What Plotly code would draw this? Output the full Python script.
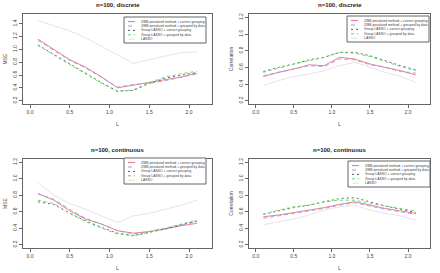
import plotly.graph_objects as go

L = [0.1, 0.3, 0.5, 0.7, 0.9, 1.1, 1.3, 1.5, 1.7, 1.9, 2.1]

series_names = [
    "ZIBB penalized method + correct grouping",
    "ZIBB penalized method + grouped by data",
    "Group LASSO + correct grouping",
    "Group LASSO + grouped by data",
    "LASSO",
]

# MSE, discrete
mse_disc_zibb_correct = [1.16, 1.00, 0.84, 0.72, 0.57, 0.40, 0.44, 0.48, 0.52, 0.57, 0.63]
mse_disc_zibb_data    = [1.14, 0.99, 0.83, 0.71, 0.56, 0.41, 0.45, 0.47, 0.51, 0.57, 0.62]
mse_disc_gl_correct   = [1.07, 0.92, 0.78, 0.63, 0.48, 0.35, 0.36, 0.47, 0.55, 0.60, 0.64]
mse_disc_gl_data      = [1.06, 0.91, 0.77, 0.62, 0.47, 0.34, 0.37, 0.48, 0.57, 0.62, 0.66]
mse_disc_lasso        = [1.45, 1.37, 1.29, 1.18, 1.05, 0.92, 0.78, 0.84, 0.90, 0.95, 0.96]

# Correlation, discrete
cor_disc_zibb_correct = [0.49, 0.54, 0.58, 0.63, 0.62, 0.72, 0.70, 0.64, 0.60, 0.56, 0.51]
cor_disc_zibb_data    = [0.50, 0.54, 0.58, 0.62, 0.61, 0.70, 0.69, 0.63, 0.60, 0.55, 0.53]
cor_disc_gl_correct   = [0.55, 0.60, 0.64, 0.69, 0.72, 0.78, 0.78, 0.74, 0.68, 0.62, 0.57]
cor_disc_gl_data      = [0.54, 0.59, 0.64, 0.68, 0.72, 0.78, 0.77, 0.73, 0.67, 0.61, 0.56]
cor_disc_lasso        = [0.38, 0.44, 0.49, 0.52, 0.56, 0.62, 0.66, 0.60, 0.54, 0.49, 0.42]

# MSE, continuous
mse_cont_zibb_correct = [0.82, 0.74, 0.61, 0.51, 0.45, 0.37, 0.34, 0.36, 0.39, 0.43, 0.46]
mse_cont_zibb_data    = [0.82, 0.75, 0.63, 0.52, 0.45, 0.37, 0.33, 0.36, 0.40, 0.44, 0.48]
mse_cont_gl_correct   = [0.72, 0.69, 0.58, 0.49, 0.41, 0.34, 0.31, 0.35, 0.39, 0.44, 0.49]
mse_cont_gl_data      = [0.74, 0.70, 0.58, 0.48, 0.40, 0.33, 0.31, 0.35, 0.40, 0.45, 0.50]
mse_cont_lasso        = [0.95, 0.80, 0.70, 0.63, 0.55, 0.47, 0.55, 0.58, 0.63, 0.68, 0.74]

# Correlation, continuous
cor_cont_zibb_correct = [0.54, 0.56, 0.59, 0.62, 0.65, 0.69, 0.72, 0.68, 0.64, 0.61, 0.58]
cor_cont_zibb_data    = [0.52, 0.55, 0.58, 0.61, 0.64, 0.68, 0.71, 0.67, 0.63, 0.60, 0.57]
cor_cont_gl_correct   = [0.57, 0.61, 0.65, 0.68, 0.72, 0.76, 0.77, 0.72, 0.67, 0.63, 0.59]
cor_cont_gl_data      = [0.57, 0.62, 0.66, 0.68, 0.72, 0.74, 0.74, 0.70, 0.67, 0.64, 0.61]
cor_cont_lasso        = [0.44, 0.48, 0.51, 0.56, 0.62, 0.66, 0.68, 0.62, 0.58, 0.55, 0.50]

x_ticks = [0.0, 0.5, 1.0, 1.5, 2.0]
y_ticks_mse_disc = [0.2, 0.4, 0.6, 0.8, 1.0, 1.2, 1.4]
y_ticks_std = [0.2, 0.4, 0.6, 0.8, 1.0, 1.2]

W, H = 440, 273

def px(x):
    return x / W

def py(y):
    return 1 - y / H

panels = [
    dict(title="n=100, discrete", ylab="MSE", ylim=[0.148, 1.552], yticks=y_ticks_mse_disc,
         data=[mse_disc_zibb_correct, mse_disc_zibb_data, mse_disc_gl_correct, mse_disc_gl_data, mse_disc_lasso],
         box=(23, 212, 14, 104), leg=(6, 3)),
    dict(title="n=100, discrete", ylab="Correlation", ylim=[0.16, 1.24], yticks=y_ticks_std,
         data=[cor_disc_zibb_correct, cor_disc_zibb_data, cor_disc_gl_correct, cor_disc_gl_data, cor_disc_lasso],
         box=(249, 430, 14, 104), leg=(1, 2)),
    dict(title="n=100, continuous", ylab="MSE", ylim=[0.16, 1.24], yticks=y_ticks_std,
         data=[mse_cont_zibb_correct, mse_cont_zibb_data, mse_cont_gl_correct, mse_cont_gl_data, mse_cont_lasso],
         box=(23, 212, 159, 248), leg=(6, -1)),
    dict(title="n=100, continuous", ylab="Correlation", ylim=[0.16, 1.24], yticks=y_ticks_std,
         data=[cor_cont_zibb_correct, cor_cont_zibb_data, cor_cont_gl_correct, cor_cont_gl_data, cor_cont_lasso],
         box=(249, 430, 159, 248), leg=(0, 2)),
]

colors = ["#ec7080", "#9a9aec", "#5a5a5a", "#52dc52", "#ebdde3"]
dashes = ["solid", "4px,3px", "2px,3px", "dot", "solid"]

fig = go.Figure()
FONT = "Liberation Sans, Arial, sans-serif"
annotations = []
shapes = []

LEG_W, LEG_H, ROW = 82, 26, 4.4

for i, p in enumerate(panels):
    k = "" if i == 0 else str(i + 1)
    x0, x1, y0, y1 = p["box"]
    for j, name in enumerate(series_names):
        fig.add_trace(go.Scatter(
            x=L, y=p["data"][j], mode="lines", name=name,
            line=dict(color=colors[j], width=0.9, dash=dashes[j]),
            xaxis="x" + k, yaxis="y" + k, showlegend=False,
        ))
    axis_common = dict(showline=True, mirror=True, linecolor="#666666", linewidth=1,
                       ticks="outside", ticklen=3, tickcolor="#666666", tickwidth=1,
                       showgrid=False, zeroline=False,
                       tickfont=dict(size=5, family=FONT, color="#444444"))
    fig.layout["xaxis" + k] = dict(domain=[px(x0), px(x1)], anchor="y" + k, range=[-0.088, 2.288],
                                   tickvals=x_ticks, ticktext=[f"{v:.1f}" for v in x_ticks],
                                   title=dict(text="L", font=dict(size=5, family=FONT, color="#444444"), standoff=8),
                                   **axis_common)
    fig.layout["yaxis" + k] = dict(domain=[py(y1), py(y0)], anchor="x" + k, range=p["ylim"],
                                   tickvals=p["yticks"], ticktext=[f"{v:.1f}" for v in p["yticks"]],
                                   tickangle=-90,
                                   title=dict(text=p["ylab"], font=dict(size=5, family=FONT, color="#444444"), standoff=4),
                                   **axis_common)
    annotations.append(dict(text="<b>" + p["title"] + "</b>", x=px((x0 + x1) / 2), y=py(y0 - 9.5),
                            xref="paper", yref="paper", xanchor="center", yanchor="middle",
                            showarrow=False, font=dict(size=6, family=FONT, color="#222222")))
    # legend box (decoration)
    lr = x1 - p["leg"][0]
    lt = y0 + p["leg"][1]
    ll = lr - LEG_W
    lb = lt + LEG_H
    shapes.append(dict(type="rect", xref="paper", yref="paper",
                       x0=px(ll), x1=px(lr), y0=py(lb), y1=py(lt),
                       line=dict(color="#666666", width=1), fillcolor="white", layer="above"))
    for j, name in enumerate(series_names):
        ry = lt + 4.6 + ROW * j
        shapes.append(dict(type="line", xref="paper", yref="paper",
                           x0=px(ll + 4), x1=px(ll + 11), y0=py(ry), y1=py(ry),
                           line=dict(color=colors[j], width=1, dash=dashes[j]), layer="above"))
        annotations.append(dict(text=name, x=px(ll + 15), y=py(ry), xref="paper", yref="paper",
                                xanchor="left", yanchor="middle", showarrow=False,
                                font=dict(size=3.4, family=FONT, color="#444444")))

fig.update_layout(width=W, height=H, margin=dict(l=0, r=0, t=0, b=0),
                  paper_bgcolor="white", plot_bgcolor="white",
                  annotations=annotations, shapes=shapes)

fig.write_html("out.html")
